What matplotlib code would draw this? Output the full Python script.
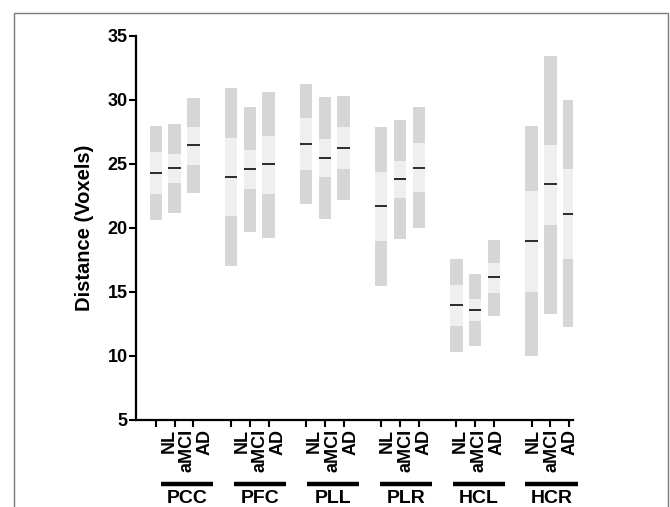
import matplotlib
matplotlib.use("Agg")
import matplotlib.pyplot as plt
import matplotlib.transforms as mtransforms
from matplotlib.patches import Rectangle

plt.rcParams['font.family'] = ['Liberation Sans', 'DejaVu Sans']
plt.rcParams['font.weight'] = 'bold'

regions = ["PCC", "PFC", "PLL", "PLR", "HCL", "HCR"]
groups = ["NL", "aMCI", "AD"]

# per region, per group (NL, aMCI, AD)
vmin = [[20.6, 21.15, 22.7], [17.0, 19.65, 19.25], [21.85, 20.7, 22.2],
        [15.5, 19.15, 20.0], [10.35, 10.75, 13.1], [10.0, 13.3, 12.3]]
q1 = [[22.65, 23.55, 24.9], [20.9, 23.05, 22.65], [24.5, 23.95, 24.6],
      [19.0, 22.35, 22.8], [12.35, 12.7, 14.9], [15.0, 20.25, 17.55]]
median = [[24.3, 24.7, 26.45], [23.95, 24.6, 24.97], [26.6, 25.45, 26.25],
          [21.7, 23.8, 24.7], [14.0, 13.6, 16.15], [18.95, 23.4, 21.1]]
q3 = [[25.95, 25.75, 27.9], [27.0, 26.1, 27.2], [28.6, 26.95, 27.9],
      [24.4, 25.2, 26.65], [15.55, 14.45, 17.3], [22.9, 26.5, 24.6]]
vmax = [[28.0, 28.15, 30.15], [30.9, 29.45, 30.65], [31.25, 30.2, 30.3],
        [27.9, 28.45, 29.45], [17.6, 16.4, 19.1], [27.95, 33.45, 30.0]]

yticks = [5, 10, 15, 20, 25, 30, 35]

W, H = 670, 507
fig = plt.figure(figsize=(W / 100, H / 100), dpi=100)
ax = fig.add_axes([136 / W, 1 - 420 / H, (573 - 136) / W, (420 - 36) / H])

dark = "#d6d6d6"
light = "#efefef"
bw = 0.66
positions = []
for i, reg in enumerate(regions):
    for j, g in enumerate(groups):
        x = 4 * i + j
        positions.append(x)
        ax.bar(x, vmax[i][j] - vmin[i][j], bottom=vmin[i][j], width=bw,
               color=dark, linewidth=0)
        ax.bar(x, q3[i][j] - q1[i][j], bottom=q1[i][j], width=bw,
               color=light, linewidth=0)
        ax.plot([x - bw / 2, x + bw / 2], [median[i][j]] * 2,
                color="#1a1a1a", lw=1.3, solid_capstyle="butt")

ax.set_xlim(-1.05, 22.2)
ax.set_ylim(5, 35)
ax.set_yticks(yticks)
ax.set_yticklabels([str(t) for t in yticks], fontsize=13, fontweight='bold')
ax.set_xticks(positions)
ax.set_xticklabels([])
ax.tick_params(axis='both', direction='out', length=5, width=1.5, color='black')
ax.tick_params(axis='y', pad=1)
for s in ["top", "right"]:
    ax.spines[s].set_visible(False)
for s in ["left", "bottom"]:
    ax.spines[s].set_linewidth(1.6)
ax.set_ylabel("Distance (Voxels)", fontsize=14.5, fontweight='bold', labelpad=10)

trans = mtransforms.blended_transform_factory(ax.transData, ax.transAxes)
for i, reg in enumerate(regions):
    c = 1.67 + 3.88 * i
    for j, g in enumerate(groups):
        ax.text(c + (j - 1) * 0.97, -0.024, g, rotation=90, ha='center', va='top',
                fontsize=13, fontweight='bold', transform=trans, clip_on=False)
    ax.plot([c - 1.4, c + 1.4], [-0.166, -0.166], color='black', lw=3.2,
            transform=trans, clip_on=False, solid_capstyle='butt')
    ax.text(c, -0.205, reg, ha='center', va='center', fontsize=14,
            fontweight='bold', transform=trans, clip_on=False)

frame = Rectangle((14 / W, -0.1), (667.5 - 14) / W, 1.1 - 13 / H,
                  transform=fig.transFigure, fill=False, edgecolor='#7a7a7a',
                  lw=1.0)
fig.patches.append(frame)

fig.savefig("out.png", dpi=100)
